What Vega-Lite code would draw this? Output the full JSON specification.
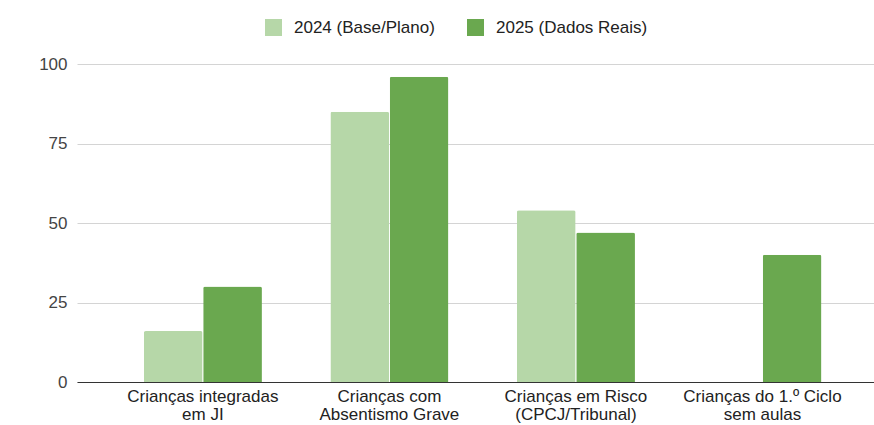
{
  "$schema": "https://vega.github.io/schema/vega-lite/v6.json",
  "width": 797,
  "height": 318,
  "autosize": {"type": "none"},
  "padding": {"left": 77, "top": 64, "right": 0, "bottom": 43},
  "background": "white",
  "config": {
    "font": "Liberation Sans",
    "view": {"stroke": null}
  },
  "data": {
    "values": [
      {"categoria": "Crianças integradas|em JI", "serie": "2024 (Base/Plano)", "valor": 16},
      {"categoria": "Crianças integradas|em JI", "serie": "2025 (Dados Reais)", "valor": 30},
      {"categoria": "Crianças com|Absentismo Grave", "serie": "2024 (Base/Plano)", "valor": 85},
      {"categoria": "Crianças com|Absentismo Grave", "serie": "2025 (Dados Reais)", "valor": 96},
      {"categoria": "Crianças em Risco|(CPCJ/Tribunal)", "serie": "2024 (Base/Plano)", "valor": 54},
      {"categoria": "Crianças em Risco|(CPCJ/Tribunal)", "serie": "2025 (Dados Reais)", "valor": 47},
      {"categoria": "Crianças do 1.º Ciclo|sem aulas", "serie": "2024 (Base/Plano)", "valor": null},
      {"categoria": "Crianças do 1.º Ciclo|sem aulas", "serie": "2025 (Dados Reais)", "valor": 40}
    ]
  },
  "mark": {"type": "bar", "cornerRadiusTopLeft": 2, "cornerRadiusTopRight": 2},
  "encoding": {
    "x": {
      "field": "categoria",
      "type": "nominal",
      "sort": null,
      "scale": {"paddingInner": 0.367, "paddingOuter": 0.32, "align": 0.56},
      "axis": {
        "title": null,
        "labelAngle": 0,
        "labelExpr": "split(datum.value, '|')",
        "labelFontSize": 17,
        "labelColor": "#222222",
        "labelLineHeight": 18,
        "labelPadding": 6,
        "ticks": false,
        "domainColor": "#333333",
        "domainWidth": 1,
        "zindex": 1
      }
    },
    "xOffset": {
      "field": "serie",
      "type": "nominal",
      "scale": {"paddingInner": 0.01}
    },
    "y": {
      "field": "valor",
      "type": "quantitative",
      "scale": {"domain": [0, 100]},
      "axis": {
        "title": null,
        "values": [0, 25, 50, 75, 100],
        "labelFontSize": 17,
        "labelColor": "#444444",
        "labelPadding": 10,
        "ticks": false,
        "domain": false,
        "gridColor": "#d4d4d4",
        "gridWidth": 1
      }
    },
    "color": {
      "field": "serie",
      "type": "nominal",
      "scale": {
        "domain": ["2024 (Base/Plano)", "2025 (Dados Reais)"],
        "range": ["#b6d7a8", "#6aa84f"]
      },
      "legend": {
        "title": null,
        "orient": "none",
        "direction": "horizontal",
        "legendX": 188,
        "legendY": -45,
        "symbolType": "square",
        "symbolSize": 289,
        "symbolStrokeWidth": 0,
        "labelFontSize": 17,
        "labelColor": "#222222",
        "labelOffset": 12,
        "columnPadding": 32
      }
    }
  }
}
